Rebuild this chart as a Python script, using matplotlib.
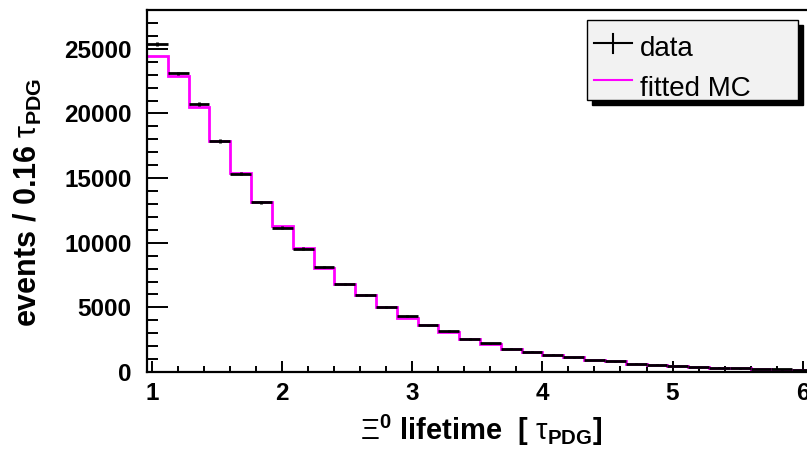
import numpy as np
import matplotlib
matplotlib.use("Agg")
import matplotlib.pyplot as plt
from matplotlib.patches import Rectangle
from matplotlib.lines import Line2D
from matplotlib.ticker import MultipleLocator

# histogram: 32 bins of 0.16 tau_PDG starting at 0.96
bin_start = 0.96
bin_width = 0.16
data_counts = [25390, 23090, 20720, 17880, 15350, 13130, 11170, 9540,
               8100, 6790, 5980, 5010, 4310, 3610, 3170, 2550,
               2220, 1800, 1550, 1340, 1140, 930, 830, 640,
               570, 490, 390, 330, 280, 230, 200, 170]
mc_counts = [24430, 22890, 20460, 17830, 15400, 13130, 11300, 9560,
             8080, 6800, 5960, 5000, 4200, 3600, 3070, 2560,
             2200, 1800, 1540, 1330, 1130, 940, 820, 650,
             560, 480, 400, 330, 280, 230, 190, 170]
x_ticks = [1, 2, 3, 4, 5, 6]
y_ticks = [0, 5000, 10000, 15000, 20000, 25000]

plt.rcParams['font.family'] = ['Liberation Sans', 'DejaVu Sans']
plt.rcParams['mathtext.fontset'] = 'custom'
plt.rcParams['mathtext.rm'] = 'Liberation Sans'
plt.rcParams['mathtext.it'] = 'Liberation Sans:italic'
plt.rcParams['mathtext.bf'] = 'Liberation Sans:bold'

W, H = 807, 450
fig = plt.figure(figsize=(W / 100, H / 100), dpi=100)


def fx(px):
    return px / W


def fy(py):
    return 1 - py / H


# axes box in pixels (right edge runs past the image, as in the original)
left, right, top, bottom = 147, 813, 10, 372
ax = fig.add_axes([fx(left), fy(bottom), fx(right - left), (bottom - top) / H])

n = len(data_counts)
edges = bin_start + bin_width * np.arange(n + 1)
centers = edges[:-1] + bin_width / 2
data = np.array(data_counts, dtype=float)

ax.stairs(mc_counts, edges, color='#ff00ff', lw=2.0, baseline=None, zorder=2)
ax.errorbar(centers, data, xerr=bin_width / 2, yerr=np.sqrt(data), fmt='none',
            ecolor='black', elinewidth=2.0, capsize=0, zorder=3)

ax.set_xlim(edges[0], edges[-1])
ax.set_ylim(0, 28000)
ax.set_xticks(x_ticks)
ax.set_yticks(y_ticks)
ax.xaxis.set_minor_locator(MultipleLocator(0.2))
ax.yaxis.set_minor_locator(MultipleLocator(1000))
ax.tick_params(axis='both', which='both', direction='in', top=False, right=False,
               width=1.4, colors='black')
ax.tick_params(axis='x', which='major', length=8, pad=7)
ax.tick_params(axis='x', which='minor', length=4.5)
ax.tick_params(axis='y', which='major', length=15, pad=11)
ax.tick_params(axis='y', which='minor', length=8)
for lab in ax.get_xticklabels() + ax.get_yticklabels():
    lab.set_fontsize(17.5)
    lab.set_fontweight('bold')
for s in ax.spines.values():
    s.set_linewidth(1.6)

fig.text(fx(28), fy(202), r'events / 0.16 $\mathrm{\tau}_{\mathbf{PDG}}$', rotation=90,
         ha='center', va='center', fontsize=22, fontweight='bold')
fig.text(fx(481), fy(430), r'$\Xi^{\mathbf{0}}$ lifetime  [ $\mathrm{\tau}_{\mathbf{PDG}}$]',
         ha='center', va='center', fontsize=21, fontweight='bold')

# legend box with ROOT-style shadow
lx0, ly0, lx1, ly1 = 587, 20, 798, 100
sh = 5
fig.patches.append(Rectangle((fx(lx0 + sh), fy(ly1 + sh)), fx(lx1 - lx0), (ly1 - ly0) / H,
                             transform=fig.transFigure, facecolor='black',
                             edgecolor='black', zorder=5))
fig.patches.append(Rectangle((fx(lx0), fy(ly1)), fx(lx1 - lx0), (ly1 - ly0) / H,
                             transform=fig.transFigure, facecolor='#f2f2f2',
                             edgecolor='black', lw=1.0, zorder=6))
fig.lines.append(Line2D([fx(594), fx(632)], [fy(43), fy(43)], transform=fig.transFigure,
                        color='black', lw=1.5, zorder=7))
fig.lines.append(Line2D([fx(613), fx(613)], [fy(34), fy(53)], transform=fig.transFigure,
                        color='black', lw=1.5, zorder=7))
fig.lines.append(Line2D([fx(594), fx(632)], [fy(80), fy(80)], transform=fig.transFigure,
                        color='#ff00ff', lw=1.5, zorder=7))
fig.text(fx(640), fy(56), 'data', fontsize=20, ha='left', va='baseline', zorder=8)
fig.text(fx(640), fy(96), 'fitted MC', fontsize=20, ha='left', va='baseline', zorder=8)

fig.savefig('out.png', dpi=100)
